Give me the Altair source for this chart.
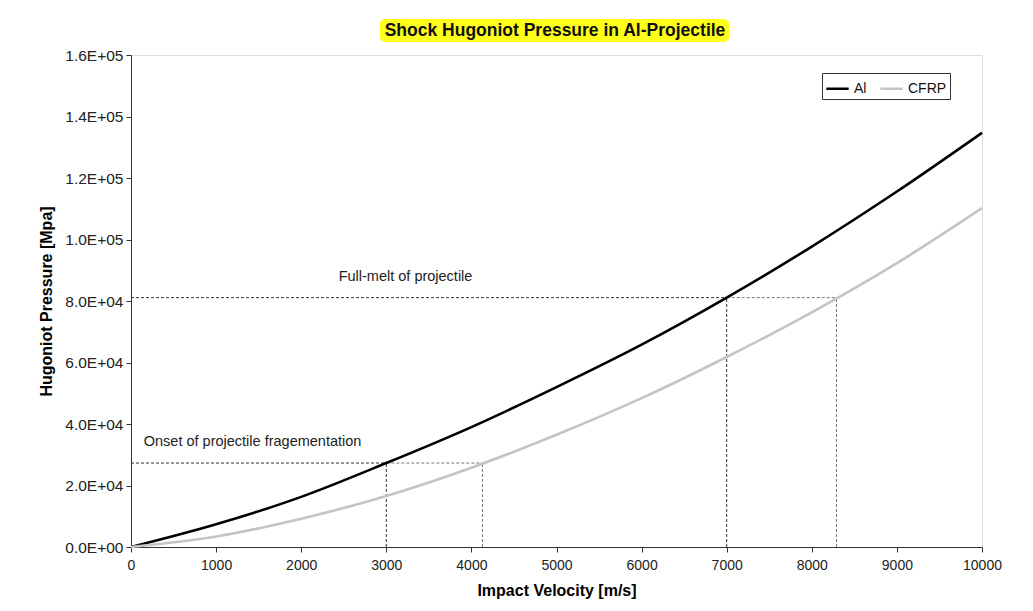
import altair as alt
import pandas as pd

velocity = [0, 1000, 2000, 3000, 4000, 5000, 6000, 7000, 8000, 9000, 10000]
al_pressure = [0, 7400, 16300, 27300, 39000, 52000, 65800, 81100, 97700, 115600, 134700]
cfrp_pressure = [0, 3400, 9200, 16600, 25800, 36500, 48400, 61800, 76300, 92300, 110200]
series_names = ["Al", "CFRP"]
series_colors = ["#000000", "#c4c4c4"]

melt_pressure = 81100
melt_v_al = 7000
melt_v_cfrp = 8290
frag_pressure = 27300
frag_v_al = 3000
frag_v_cfrp = 4130

y_ticks = [0, 20000, 40000, 60000, 80000, 100000, 120000, 140000, 160000]
x_ticks = list(range(0, 10001, 1000))

title_text = "Shock Hugoniot Pressure in Al-Projectile"
x_title = "Impact Velocity [m/s]"
y_title = "Hugoniot Pressure [Mpa]"
melt_label = "Full-melt of projectile"
frag_label = "Onset of projectile fragementation"

rows = []
for v, a, c in zip(velocity, al_pressure, cfrp_pressure):
    rows.append({"v": v, "p": a, "series": series_names[0]})
    rows.append({"v": v, "p": c, "series": series_names[1]})
df = pd.DataFrame(rows)

FONT = "Liberation Sans"

x_scale = alt.Scale(domain=[0, 10000], nice=False, zero=True)
y_scale = alt.Scale(domain=[0, 160000], nice=False)

lines = alt.Chart(df).mark_line(strokeWidth=2.6, interpolate="monotone").encode(
    x=alt.X("v:Q", scale=x_scale,
            axis=alt.Axis(title=x_title, values=x_ticks, format="d", grid=False,
                          labelFontSize=14, labelColor="#222", titleFontSize=16,
                          titleFontWeight="bold", titleFont=FONT, labelFont=FONT,
                          domainColor="#333", tickColor="#333", tickSize=5,
                          labelPadding=6, titlePadding=10, labelFlush=False)),
    y=alt.Y("p:Q", scale=y_scale,
            axis=alt.Axis(title=y_title, values=y_ticks,
                          labelExpr="replace(format(datum.value, '.1e'), /e([+-])(\\d)$/, 'E$10$2')",
                          grid=False, labelFontSize=15.5, labelColor="#222", titleFontSize=16,
                          titleFontWeight="bold", titleFont=FONT, labelFont=FONT,
                          domainColor="#333", tickColor="#333", tickSize=5,
                          labelPadding=3, titlePadding=10)),
    color=alt.Color("series:N",
                    scale=alt.Scale(domain=series_names, range=series_colors),
                    legend=alt.Legend(title=None, orient="none", legendX=691, legendY=18,
                                      direction="horizontal", symbolType="stroke",
                                      symbolStrokeWidth=2.5, symbolSize=500,
                                      labelFont=FONT, labelFontSize=14, labelColor="#111",
                                      fillColor="white", strokeColor="#333",
                                      padding=3, columnPadding=8, symbolOffset=0,
                                      labelOffset=4)),
)

# reference guide lines
dark_df = pd.DataFrame([
    {"x": 0, "x2": melt_v_al, "y": melt_pressure, "y2": melt_pressure},
    {"x": melt_v_al, "x2": melt_v_al, "y": 0, "y2": melt_pressure},
    {"x": 0, "x2": frag_v_al, "y": frag_pressure, "y2": frag_pressure},
    {"x": frag_v_al, "x2": frag_v_al, "y": 0, "y2": frag_pressure},
])
light_df = pd.DataFrame([
    {"x": melt_v_al, "x2": melt_v_cfrp, "y": melt_pressure, "y2": melt_pressure},
    {"x": melt_v_cfrp, "x2": melt_v_cfrp, "y": 0, "y2": melt_pressure},
    {"x": frag_v_al, "x2": frag_v_cfrp, "y": frag_pressure, "y2": frag_pressure},
    {"x": frag_v_cfrp, "x2": frag_v_cfrp, "y": 0, "y2": frag_pressure},
])


def rule_layer(d, col):
    return alt.Chart(d).mark_rule(strokeDash=[3, 2], strokeWidth=1, color=col).encode(
        x=alt.X("x:Q", scale=x_scale), x2="x2:Q",
        y=alt.Y("y:Q", scale=y_scale), y2="y2:Q")


rules_dark = rule_layer(dark_df, "#333333")
rules_light = rule_layer(light_df, "#777777")

labels_df = pd.DataFrame([
    {"x": 2440, "y": melt_pressure + 4500, "t": melt_label},
    {"x": 150, "y": frag_pressure + 4500, "t": frag_label},
])
labels = alt.Chart(labels_df).mark_text(align="left", baseline="bottom", font=FONT,
                                        fontSize=14.5, color="#222").encode(
    x=alt.X("x:Q", scale=x_scale), y=alt.Y("y:Q", scale=y_scale), text="t:N")

# title with yellow highlight
title_bg = alt.Chart(pd.DataFrame({"a": [0]})).mark_rect(color="#ffff1a", cornerRadius=5).encode(
    x=alt.value(249), x2=alt.value(598), y=alt.value(-36), y2=alt.value(-13))
title_txt = alt.Chart(pd.DataFrame({"t": [title_text]})).mark_text(
    font=FONT, fontSize=17.5, fontWeight="bold", color="#111", baseline="middle").encode(
    x=alt.value(424), y=alt.value(-24), text="t:N")

chart = alt.layer(title_bg, title_txt, rules_dark, rules_light, lines, labels).properties(
    width=851, height=492,
    autosize=alt.AutoSizeParams(type="none"),
    padding={"left": 123, "top": 47, "right": 40, "bottom": 60},
).configure_view(stroke="#666", strokeWidth=1).configure(background="white")

chart.save("out.html", embed_options={"renderer": "svg", "actions": False})
